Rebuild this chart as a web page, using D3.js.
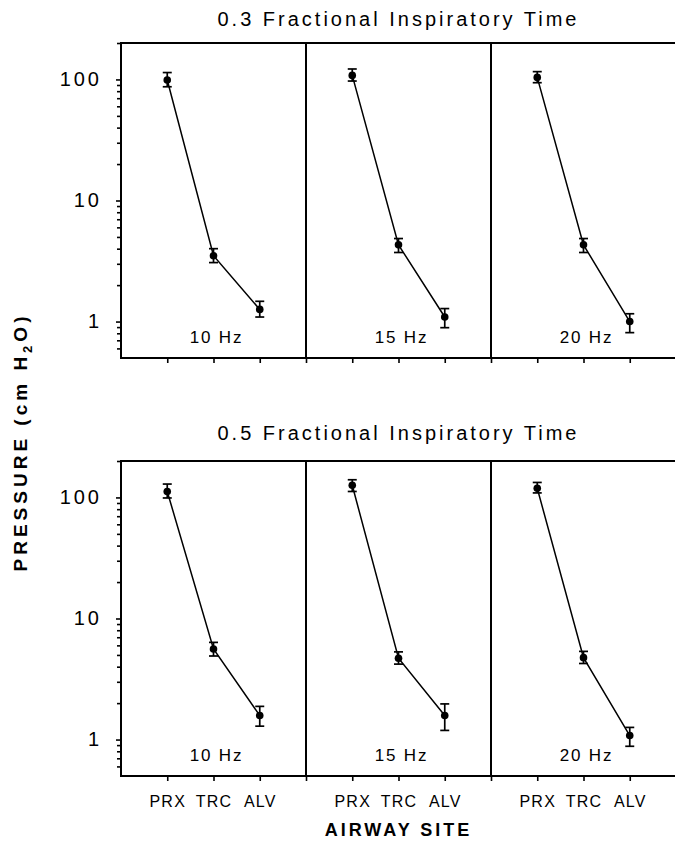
<!DOCTYPE html>
<html>
<head>
	<title>Airway pressure</title>
	<style type="text/css">
		body {
			margin: 0;
			background: #fff;
			font-family: "Liberation Sans", Arial, Helvetica, sans-serif;
		}
		.frame {
			fill: none;
			stroke: #000;
			stroke-width: 2;
		}
		.axis path {
			display: none;
		}
		.axis line {
			stroke: #000;
			stroke-width: 1.6;
		}
		.axis text {
			font-family: "Liberation Sans", Arial, sans-serif;
			fill: #000;
		}
		.series {
			fill: none;
			stroke: #000;
			stroke-width: 1.5;
		}
		.err {
			stroke: #000;
			stroke-width: 1.7;
		}
	</style>
</head>
<body>
	<div id="chart"></div>
	<script src="https://d3js.org/d3.v7.min.js"></script>
	<script type="text/javascript">
		// values (cm H2O), one row per frequency panel
		var sites = ["PRX", "TRC", "ALV"];
		var freqs = ["10 Hz", "15 Hz", "20 Hz"];
		var rowTitles = ["0.3 Fractional Inspiratory Time", "0.5 Fractional Inspiratory Time"];

		var fit03Mean = [[99, 3.5, 1.26], [108, 4.3, 1.09], [104, 4.3, 1.0]];
		var fit03High = [[114, 4.0, 1.47], [122, 4.85, 1.28], [116, 4.85, 1.16]];
		var fit03Low = [[87, 3.07, 1.09], [97, 3.72, 0.89], [94, 3.72, 0.81]];

		var fit05Mean = [[112, 5.6, 1.58], [126, 4.7, 1.58], [119, 4.75, 1.08]];
		var fit05High = [[129, 6.35, 1.88], [140, 5.3, 1.97], [133, 5.35, 1.26]];
		var fit05Low = [[99, 4.9, 1.29], [112, 4.2, 1.19], [109, 4.25, 0.88]];

		var majorTicks = [1, 10, 100];
		var minorTicks = [0.6, 0.7, 0.8, 0.9, 2, 3, 4, 5, 6, 7, 8, 9, 20, 30, 40, 50, 60, 70, 80, 90, 200];

		var rows = [
			{ title: rowTitles[0], mean: fit03Mean, high: fit03High, low: fit03Low },
			{ title: rowTitles[1], mean: fit05Mean, high: fit05High, low: fit05Low }
		];

		var width = 675,
			height = 853,
			left = 121,
			panelW = 185,
			rowTop = [43, 461],
			titleY = [26, 440],
			rowH = 315;

		var svg = d3.select("#chart")
			.append("svg")
			.attr("width", width)
			.attr("height", height);

		var x = d3.scaleLinear().domain([0, 4]).range([0, panelW]);

		rows.forEach(function(row, r) {
			var y = d3.scaleLog().domain([0.5, 200]).range([rowTop[r] + rowH, rowTop[r]]);
			var g = svg.append("g");

			// row title
			g.append("text")
				.attr("x", left + panelW * 1.5)
				.attr("y", titleY[r])
				.attr("text-anchor", "middle")
				.style("font-size", "20px")
				.style("letter-spacing", "3px")
				.text(row.title);

			// y axis, minor then major
			g.append("g")
				.attr("class", "axis")
				.attr("transform", "translate(" + left + ",0)")
				.call(d3.axisLeft(y).tickValues(minorTicks).tickSize(4).tickFormat(""));

			g.append("g")
				.attr("class", "axis")
				.attr("transform", "translate(" + left + ",0)")
				.call(d3.axisLeft(y).tickValues(majorTicks).tickSize(5).tickPadding(14).tickFormat(d3.format("d")))
				.selectAll("text")
				.style("font-size", "20px")
				.style("letter-spacing", "3px");

			freqs.forEach(function(f, p) {
				var px = left + p * panelW;
				var pg = g.append("g").attr("transform", "translate(" + px + ",0)");

				pg.append("rect")
					.attr("class", "frame")
					.attr("x", 0)
					.attr("y", rowTop[r])
					.attr("width", panelW)
					.attr("height", rowH);

				var xAxis = pg.append("g")
					.attr("class", "axis")
					.attr("transform", "translate(0," + (rowTop[r] + rowH) + ")")
					.call(d3.axisBottom(x).tickValues([1, 2, 3, 4]).tickSize(5).tickPadding(15)
						.tickFormat(function(d) { return r == 1 && d < 4 ? sites[d - 1] : ""; }));
				xAxis.selectAll("text")
					.style("font-size", "16px")
					.style("letter-spacing", "1.2px");

				var pts = sites.map(function(s, i) {
					return { i: i + 1, m: row.mean[p][i], hi: row.high[p][i], lo: row.low[p][i] };
				});

				pg.append("path")
					.datum(pts)
					.attr("class", "series")
					.attr("d", d3.line()
						.x(function(d) { return x(d.i); })
						.y(function(d) { return y(d.m); }));

				var eb = pg.selectAll(".eb")
					.data(pts)
					.enter()
					.append("g")
					.attr("class", "eb");

				eb.append("line")
					.attr("class", "err")
					.attr("x1", function(d) { return x(d.i); })
					.attr("x2", function(d) { return x(d.i); })
					.attr("y1", function(d) { return y(d.hi); })
					.attr("y2", function(d) { return y(d.lo); });

				eb.selectAll(".cap")
					.data(function(d) { return [{ i: d.i, v: d.hi }, { i: d.i, v: d.lo }]; })
					.enter()
					.append("line")
					.attr("class", "err")
					.attr("x1", function(d) { return x(d.i) - 4.5; })
					.attr("x2", function(d) { return x(d.i) + 4.5; })
					.attr("y1", function(d) { return y(d.v); })
					.attr("y2", function(d) { return y(d.v); });

				eb.append("circle")
					.attr("cx", function(d) { return x(d.i); })
					.attr("cy", function(d) { return y(d.m); })
					.attr("r", 3.8)
					.style("fill", "#000");

				pg.append("text")
					.attr("x", x(2) + 3)
					.attr("y", rowTop[r] + rowH - 15)
					.attr("text-anchor", "middle")
					.style("font-size", "17px")
					.style("letter-spacing", "1.8px")
					.text(f);
			});
		});

		// axis titles
		var yTitle = svg.append("text")
			.attr("transform", "translate(27,442) rotate(-90)")
			.attr("text-anchor", "middle")
			.style("font-size", "19px")
			.style("font-weight", "bold")
			.style("letter-spacing", "4px");
		yTitle.append("tspan").text("PRESSURE (cm H");
		yTitle.append("tspan").attr("dy", 5).style("font-size", "13px").text("2");
		yTitle.append("tspan").attr("dy", -5).text("O)");

		svg.append("text")
			.attr("x", left + panelW * 1.5)
			.attr("y", 836)
			.attr("text-anchor", "middle")
			.style("font-size", "18px")
			.style("font-weight", "bold")
			.style("letter-spacing", "3px")
			.text("AIRWAY SITE");
	</script>
</body>
</html>
